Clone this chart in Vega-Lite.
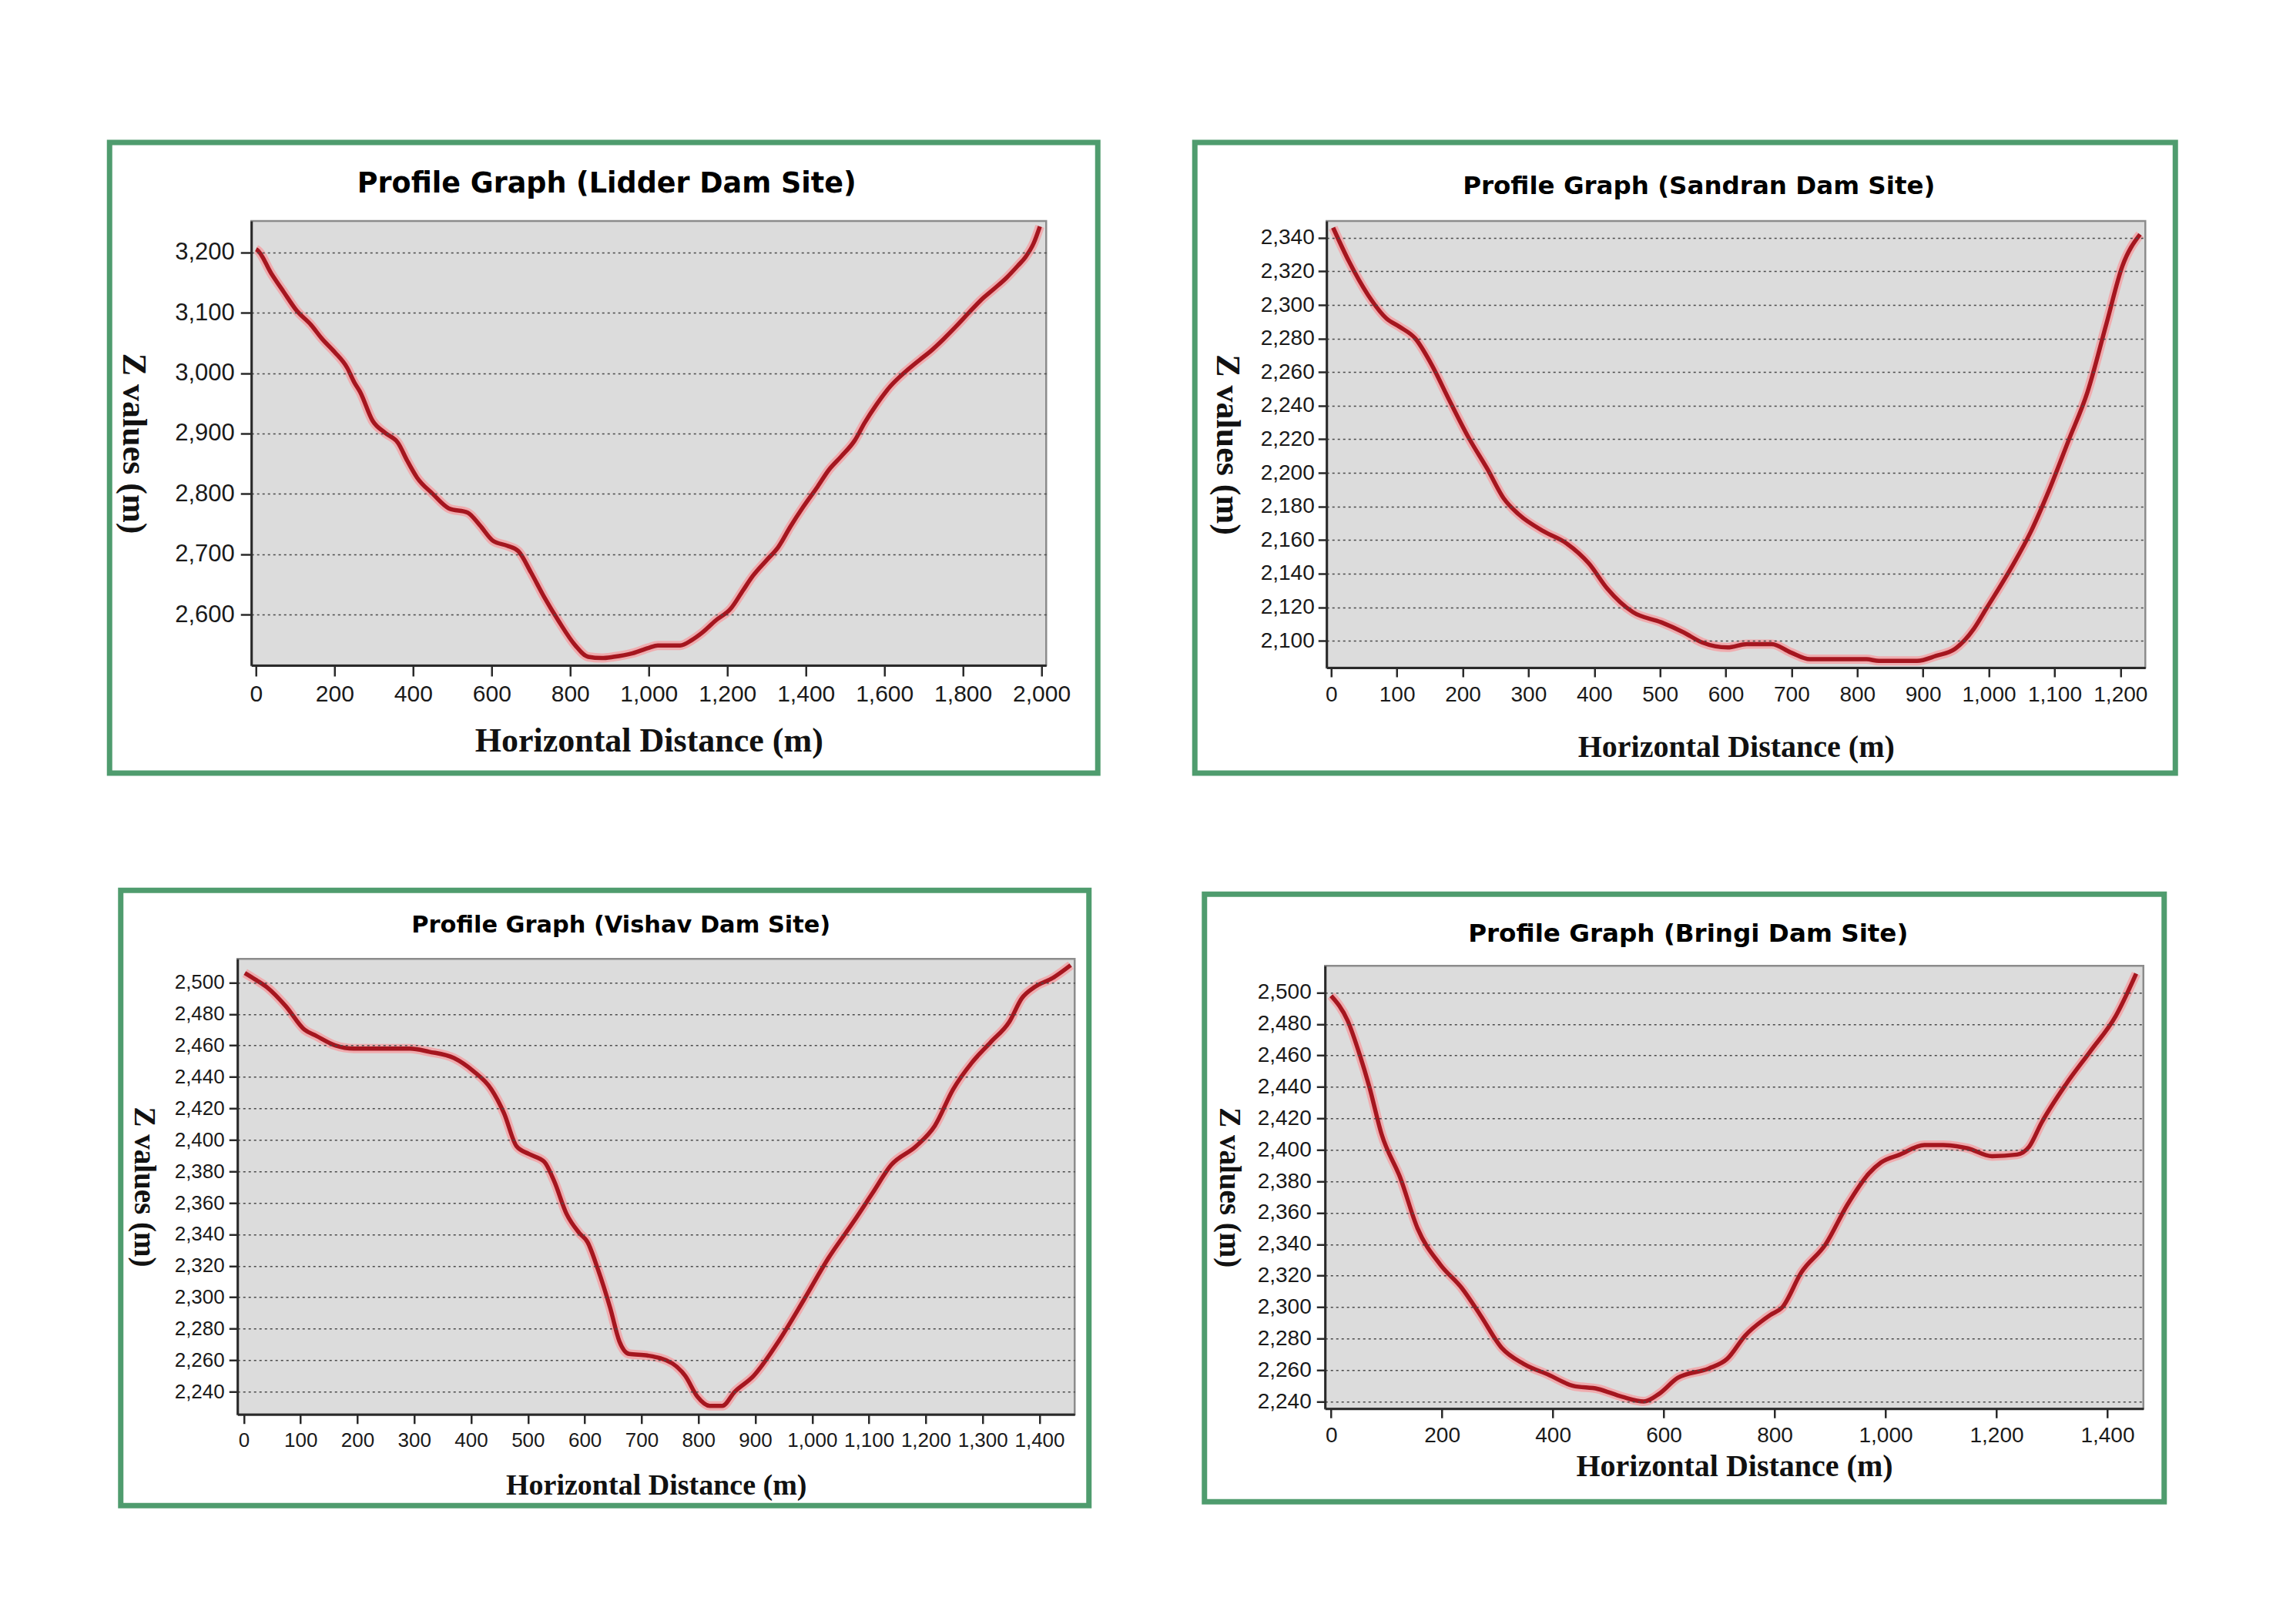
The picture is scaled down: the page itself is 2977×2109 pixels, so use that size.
{
  "$schema": "https://vega.github.io/schema/vega-lite/v6.json",
  "background": "#ffffff",
  "padding": {"left": 138, "top": 181, "right": 0, "bottom": 0},
  "datasets": {
    "lidder": [
      {"d":0,"z":3205},{"d":3,"z":3204},{"d":39,"z":3165},{"d":70,"z":3135},{"d":103,"z":3104},{"d":140,"z":3080},{"d":168,"z":3057},{"d":200,"z":3035},{"d":232,"z":3009},{"d":250,"z":2985},{"d":265,"z":2969},{"d":297,"z":2921},{"d":329,"z":2901},{"d":362,"z":2884},{"d":385,"z":2855},{"d":410,"z":2827},{"d":450,"z":2800},{"d":491,"z":2776},{"d":539,"z":2769},{"d":570,"z":2748},{"d":604,"z":2722},{"d":640,"z":2714},{"d":668,"z":2705},{"d":700,"z":2670},{"d":733,"z":2630},{"d":770,"z":2590},{"d":813,"z":2549},{"d":846,"z":2530},{"d":880,"z":2528},{"d":910,"z":2530},{"d":959,"z":2536},{"d":1000,"z":2545},{"d":1023,"z":2549},{"d":1080,"z":2549},{"d":1110,"z":2558},{"d":1136,"z":2570},{"d":1170,"z":2590},{"d":1209,"z":2610},{"d":1240,"z":2640},{"d":1265,"z":2664},{"d":1300,"z":2690},{"d":1330,"z":2712},{"d":1360,"z":2745},{"d":1394,"z":2779},{"d":1430,"z":2812},{"d":1459,"z":2840},{"d":1490,"z":2862},{"d":1524,"z":2888},{"d":1550,"z":2918},{"d":1580,"z":2948},{"d":1615,"z":2978},{"d":1653,"z":3002},{"d":1690,"z":3022},{"d":1717,"z":3036},{"d":1750,"z":3056},{"d":1782,"z":3077},{"d":1815,"z":3100},{"d":1846,"z":3121},{"d":1880,"z":3140},{"d":1911,"z":3158},{"d":1940,"z":3178},{"d":1959,"z":3192},{"d":1980,"z":3215},{"d":1996,"z":3243}
    ],
    "sandran": [
      {"d":3,"z":2346},{"d":27,"z":2326},{"d":56,"z":2306},{"d":84,"z":2292},{"d":104,"z":2287},{"d":128,"z":2280},{"d":152,"z":2265},{"d":180,"z":2243},{"d":209,"z":2221},{"d":238,"z":2202},{"d":262,"z":2185},{"d":286,"z":2175},{"d":324,"z":2165},{"d":358,"z":2158},{"d":392,"z":2146},{"d":420,"z":2131},{"d":459,"z":2117},{"d":502,"z":2111},{"d":536,"z":2105},{"d":564,"z":2099},{"d":603,"z":2096},{"d":632,"z":2098},{"d":670,"z":2098},{"d":699,"z":2093},{"d":728,"z":2089},{"d":814,"z":2089},{"d":833,"z":2088},{"d":891,"z":2088},{"d":920,"z":2091},{"d":948,"z":2095},{"d":977,"z":2107},{"d":996,"z":2119},{"d":1035,"z":2144},{"d":1064,"z":2165},{"d":1092,"z":2190},{"d":1121,"z":2219},{"d":1150,"z":2248},{"d":1179,"z":2289},{"d":1203,"z":2323},{"d":1230,"z":2342}
    ],
    "vishav": [
      {"d":2,"z":2506},{"d":20,"z":2502},{"d":41,"z":2497},{"d":74,"z":2485},{"d":107,"z":2470},{"d":128,"z":2466},{"d":161,"z":2460},{"d":194,"z":2458},{"d":250,"z":2458},{"d":293,"z":2458},{"d":326,"z":2456},{"d":370,"z":2452},{"d":403,"z":2444},{"d":436,"z":2432},{"d":458,"z":2417},{"d":480,"z":2396},{"d":502,"z":2391},{"d":529,"z":2386},{"d":546,"z":2374},{"d":568,"z":2353},{"d":590,"z":2341},{"d":605,"z":2335},{"d":623,"z":2318},{"d":645,"z":2293},{"d":661,"z":2272},{"d":678,"z":2264},{"d":710,"z":2263},{"d":754,"z":2258},{"d":777,"z":2250},{"d":798,"z":2237},{"d":820,"z":2231},{"d":842,"z":2231},{"d":864,"z":2240},{"d":897,"z":2250},{"d":941,"z":2272},{"d":985,"z":2298},{"d":1029,"z":2325},{"d":1073,"z":2348},{"d":1106,"z":2366},{"d":1139,"z":2384},{"d":1183,"z":2396},{"d":1216,"z":2409},{"d":1248,"z":2432},{"d":1281,"z":2449},{"d":1314,"z":2462},{"d":1347,"z":2475},{"d":1369,"z":2490},{"d":1391,"z":2497},{"d":1424,"z":2503},{"d":1455,"z":2511}
    ],
    "bringi": [
      {"d":0,"z":2498},{"d":30,"z":2482},{"d":52,"z":2460},{"d":69,"z":2440},{"d":91,"z":2410},{"d":125,"z":2382},{"d":156,"z":2350},{"d":197,"z":2327},{"d":236,"z":2312},{"d":269,"z":2295},{"d":308,"z":2274},{"d":347,"z":2264},{"d":392,"z":2257},{"d":436,"z":2250},{"d":481,"z":2248},{"d":525,"z":2243},{"d":564,"z":2240},{"d":592,"z":2245},{"d":625,"z":2255},{"d":681,"z":2261},{"d":714,"z":2267},{"d":747,"z":2282},{"d":792,"z":2295},{"d":814,"z":2300},{"d":848,"z":2322},{"d":892,"z":2340},{"d":931,"z":2365},{"d":970,"z":2385},{"d":992,"z":2392},{"d":1026,"z":2397},{"d":1070,"z":2403},{"d":1104,"z":2403},{"d":1148,"z":2401},{"d":1192,"z":2396},{"d":1237,"z":2397},{"d":1259,"z":2402},{"d":1281,"z":2417},{"d":1326,"z":2442},{"d":1370,"z":2463},{"d":1415,"z":2485},{"d":1452,"z":2512}
    ]
  },
  "vconcat": [
    {
      "hconcat": [
        {
          "width": 1283, "height": 819,
          "title": {"text": "Profile Graph (Lidder Dam Site)", "fontSize": 36.5, "offset": -72, "dx": 4},
          "layer": [
            {
              "data": {"values": [{}]},
              "mark": {"type": "rect", "fill": "#dcdcdc", "stroke": "#8c8c8c", "strokeWidth": 2.5},
              "encoding": {
                "x": {"datum": -12, "type": "quantitative", "scale": {"domain": [-12, 2012], "range": [184, 1216], "nice": false, "zero": false},
                  "axis": {"orient": "bottom", "offset": -140, "zindex": 1, "grid": false, "values": [0,200,400,600,800,1000,1200,1400,1600,1800,2000], "format": ",d", "labelFontSize": 30, "tickSize": 14, "labelPadding": 8, "title": "Horizontal Distance (m)", "titleFontSize": 44, "titlePadding": 24}},
                "x2": {"datum": 2012},
                "y": {"datum": 2516, "type": "quantitative", "scale": {"domain": [2516, 3252], "range": [679, 102], "nice": false, "zero": false},
                  "axis": {"orient": "left", "offset": -184, "zindex": 1, "grid": true, "values": [2600,2700,2800,2900,3000,3100,3200], "format": ",d", "labelFontSize": 31, "tickSize": 14, "labelPadding": 8, "title": "Z values (m)", "titleFontSize": 44, "titleAngle": 90, "titleBaseline": "top", "titlePadding": 32}},
                "y2": {"datum": 3252}
              }
            },
            {
              "data": {"name": "lidder"},
              "mark": {"type": "line", "stroke": "#f2a3a7", "strokeWidth": 12, "opacity": 0.85},
              "encoding": {"x": {"field": "d", "type": "quantitative", "title": "Horizontal Distance (m)"}, "y": {"field": "z", "type": "quantitative", "title": "Z values (m)"}}
            },
            {
              "data": {"name": "lidder"},
              "mark": {"type": "line", "stroke": "#a5161f", "strokeWidth": 5.5},
              "encoding": {"x": {"field": "d", "type": "quantitative", "title": "Horizontal Distance (m)"}, "y": {"field": "z", "type": "quantitative", "title": "Z values (m)"}}
            }
          ]
        },
        {
          "width": 1273, "height": 819,
          "title": {"text": "Profile Graph (Sandran Dam Site)", "fontSize": 32.5, "offset": -73, "dx": 18},
          "layer": [
            {
              "data": {"values": [{}]},
              "mark": {"type": "rect", "fill": "#dcdcdc", "stroke": "#8c8c8c", "strokeWidth": 2.5},
              "encoding": {
                "x": {"datum": -7, "type": "quantitative", "scale": {"domain": [-7, 1238], "range": [171, 1234], "nice": false, "zero": false},
                  "axis": {"orient": "bottom", "offset": -137, "zindex": 1, "grid": false, "values": [0,100,200,300,400,500,600,700,800,900,1000,1100,1200], "format": ",d", "labelFontSize": 28, "tickSize": 12, "labelPadding": 9, "title": "Horizontal Distance (m)", "titleFontSize": 40, "titlePadding": 34}},
                "x2": {"datum": 1238},
                "y": {"datum": 2084, "type": "quantitative", "scale": {"domain": [2084, 2350], "range": [682, 102], "nice": false, "zero": false},
                  "axis": {"orient": "left", "offset": -171, "zindex": 1, "grid": true, "values": [2100,2120,2140,2160,2180,2200,2220,2240,2260,2280,2300,2320,2340], "format": ",d", "labelFontSize": 28, "tickSize": 11, "labelPadding": 5, "title": "Z values (m)", "titleFontSize": 44, "titleAngle": 90, "titleBaseline": "top", "titlePadding": 22}},
                "y2": {"datum": 2350}
              }
            },
            {
              "data": {"name": "sandran"},
              "mark": {"type": "line", "stroke": "#f2a3a7", "strokeWidth": 12, "opacity": 0.85},
              "encoding": {"x": {"field": "d", "type": "quantitative", "title": "Horizontal Distance (m)"}, "y": {"field": "z", "type": "quantitative", "title": "Z values (m)"}}
            },
            {
              "data": {"name": "sandran"},
              "mark": {"type": "line", "stroke": "#a5161f", "strokeWidth": 5.5},
              "encoding": {"x": {"field": "d", "type": "quantitative", "title": "Horizontal Distance (m)"}, "y": {"field": "z", "type": "quantitative", "title": "Z values (m)"}}
            }
          ]
        }
      ],
      "spacing": 118
    },
    {
      "hconcat": [
        {
          "width": 1257, "height": 799,
          "title": {"text": "Profile Graph (Vishav Dam Site)", "fontSize": 30.4, "offset": -61, "dx": 21},
          "layer": [
            {
              "data": {"values": [{}]},
              "mark": {"type": "rect", "fill": "#dcdcdc", "stroke": "#8c8c8c", "strokeWidth": 2.5},
              "encoding": {
                "x": {"datum": -11, "type": "quantitative", "scale": {"domain": [-11, 1462], "range": [151.5, 1238.5], "nice": false, "zero": false},
                  "axis": {"orient": "bottom", "offset": -118.5, "zindex": 1, "grid": false, "values": [0,100,200,300,400,500,600,700,800,900,1000,1100,1200,1300,1400], "format": ",d", "labelFontSize": 26, "tickSize": 12, "labelPadding": 9, "title": "Horizontal Distance (m)", "titleFontSize": 38, "titlePadding": 27}},
                "x2": {"datum": 1462},
                "y": {"datum": 2225.6, "type": "quantitative", "scale": {"domain": [2225.6, 2515], "range": [680.5, 89], "nice": false, "zero": false},
                  "axis": {"orient": "left", "offset": -151.5, "zindex": 1, "grid": true, "values": [2240,2260,2280,2300,2320,2340,2360,2380,2400,2420,2440,2460,2480,2500], "format": ",d", "labelFontSize": 26, "tickSize": 11, "labelPadding": 6, "title": "Z values (m)", "titleFontSize": 39, "titleAngle": 90, "titleBaseline": "top", "titlePadding": 21}},
                "y2": {"datum": 2515}
              }
            },
            {
              "data": {"name": "vishav"},
              "mark": {"type": "line", "stroke": "#f2a3a7", "strokeWidth": 12, "opacity": 0.85},
              "encoding": {"x": {"field": "d", "type": "quantitative", "title": "Horizontal Distance (m)"}, "y": {"field": "z", "type": "quantitative", "title": "Z values (m)"}}
            },
            {
              "data": {"name": "vishav"},
              "mark": {"type": "line", "stroke": "#a5161f", "strokeWidth": 5.5},
              "encoding": {"x": {"field": "d", "type": "quantitative", "title": "Horizontal Distance (m)"}, "y": {"field": "z", "type": "quantitative", "title": "Z values (m)"}}
            }
          ]
        },
        {
          "width": 1246, "height": 789,
          "title": {"text": "Profile Graph (Bringi Dam Site)", "fontSize": 32.6, "offset": -68, "dx": 5},
          "layer": [
            {
              "data": {"values": [{}]},
              "mark": {"type": "rect", "fill": "#dcdcdc", "stroke": "#8c8c8c", "strokeWidth": 2.5},
              "encoding": {
                "x": {"datum": -11, "type": "quantitative", "scale": {"domain": [-11, 1465], "range": [156.5, 1219], "nice": false, "zero": false},
                  "axis": {"orient": "bottom", "offset": -121, "zindex": 1, "grid": false, "values": [0,200,400,600,800,1000,1200,1400], "format": ",d", "labelFontSize": 28, "tickSize": 12, "labelPadding": 9, "title": "Horizontal Distance (m)", "titleFontSize": 40, "titlePadding": 6}},
                "x2": {"datum": 1465},
                "y": {"datum": 2235.5, "type": "quantitative", "scale": {"domain": [2235.5, 2517], "range": [668, 93], "nice": false, "zero": false},
                  "axis": {"orient": "left", "offset": -156.5, "zindex": 1, "grid": true, "values": [2240,2260,2280,2300,2320,2340,2360,2380,2400,2420,2440,2460,2480,2500], "format": ",d", "labelFontSize": 28, "tickSize": 11, "labelPadding": 7, "title": "Z values (m)", "titleFontSize": 39, "titleAngle": 90, "titleBaseline": "top", "titlePadding": 18}},
                "y2": {"datum": 2517}
              }
            },
            {
              "data": {"name": "bringi"},
              "mark": {"type": "line", "stroke": "#f2a3a7", "strokeWidth": 12, "opacity": 0.85},
              "encoding": {"x": {"field": "d", "type": "quantitative", "title": "Horizontal Distance (m)"}, "y": {"field": "z", "type": "quantitative", "title": "Z values (m)"}}
            },
            {
              "data": {"name": "bringi"},
              "mark": {"type": "line", "stroke": "#a5161f", "strokeWidth": 5.5},
              "encoding": {"x": {"field": "d", "type": "quantitative", "title": "Horizontal Distance (m)"}, "y": {"field": "z", "type": "quantitative", "title": "Z values (m)"}}
            }
          ]
        }
      ],
      "spacing": 142,
      "center": true
    }
  ],
  "spacing": 144,
  "center": true,
  "config": {
    "view": {"stroke": "#4f9c6e", "strokeWidth": 7, "fill": "#ffffff"},
    "line": {"interpolate": "monotone"},
    "axis": {
      "labelFont": "Liberation Sans", "labelColor": "#1a1a1a",
      "titleFont": "Liberation Serif", "titleFontWeight": "bold", "titleColor": "#111111",
      "domainColor": "#2a2a2a", "domainWidth": 3,
      "tickColor": "#2a2a2a", "tickWidth": 2.5,
      "gridColor": "#4a4a4a", "gridDash": [3, 4], "gridWidth": 1.5,
      "labelFlush": false, "labelOverlap": false
    },
    "title": {"font": "DejaVu Sans", "fontWeight": "bold", "color": "#000000", "anchor": "middle", "frame": "group", "baseline": "alphabetic"}
  }
}
